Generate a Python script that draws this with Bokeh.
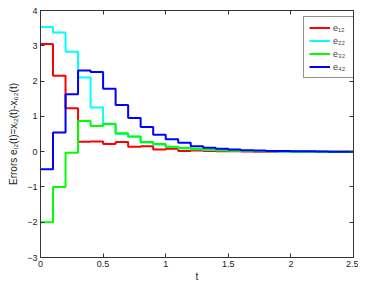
from bokeh.plotting import figure
from bokeh.models import LinearAxis, Legend, LegendItem, FixedTicker, Range1d
from bokeh.embed import file_html
from bokeh.resources import INLINE

t = [round(0.1 * i, 1) for i in range(26)]
e12 = [3.05, 2.15, 1.23, 0.28, 0.29, 0.22, 0.27, 0.14, 0.15, 0.06, 0.08, 0.02, 0.03,
       0.02, 0.01, 0.01, 0.005, 0, 0, 0, 0, 0, 0, 0, 0]
e22 = [3.53, 3.38, 2.83, 2.1, 1.25, 0.79, 0.5, 0.42, 0.26, 0.2, 0.13, 0.09, 0.07,
       0.05, 0.04, 0.03, 0.02, 0.01, 0.01, 0, 0, 0, 0, 0, 0]
e32 = [-2.0, -1.0, -0.03, 0.87, 0.73, 0.78, 0.52, 0.43, 0.27, 0.22, 0.14, 0.1, 0.08,
       0.06, 0.04, 0.03, 0.02, 0.02, 0.01, 0.01, 0, 0, 0, 0, 0]
e42 = [-0.5, 0.54, 1.63, 2.3, 2.26, 1.78, 1.32, 0.95, 0.7, 0.48, 0.35, 0.25, 0.15,
       0.11, 0.08, 0.06, 0.04, 0.03, 0.02, 0.015, 0.01, 0.01, 0.005, 0, 0]
names = ["e₁₂", "e₂₂", "e₃₂", "e₄₂"]
colors = ["#ff0000", "#00ffff", "#00ff00", "#0000ff"]
xticks = [0, 0.5, 1, 1.5, 2, 2.5]
yticks = [-3, -2, -1, 0, 1, 2, 3, 4]

FONT = "Liberation Sans"

p = figure(width=358, height=284, output_backend="svg", toolbar_location=None,
           x_range=Range1d(0, 2.5), y_range=Range1d(-3, 4),
           min_border_left=40, min_border_right=5, min_border_top=10, min_border_bottom=22,
           x_axis_location=None, y_axis_location=None)
p.xgrid.visible = False
p.ygrid.visible = False
p.outline_line_color = "#333333"
p.outline_line_width = 1

def style(ax, labels=True):
    ax.major_tick_in = 4
    ax.major_tick_out = 0
    ax.minor_tick_in = 0
    ax.minor_tick_out = 0
    ax.axis_line_color = "#333333"
    ax.major_tick_line_color = "#333333"
    ax.major_label_text_font = FONT
    ax.major_label_text_font_size = "9px"
    ax.major_label_text_color = "#222222"
    ax.major_label_standoff = 3
    ax.axis_label_text_font = FONT
    ax.axis_label_text_font_size = "10px"
    ax.axis_label_text_font_style = "normal"
    ax.axis_label_text_color = "#222222"
    if not labels:
        ax.major_label_overrides = {tk: "" for tk in ax.ticker.ticks}
        ax.major_label_standoff = 0

xb = LinearAxis(ticker=FixedTicker(ticks=xticks), axis_label="t", axis_label_standoff=1)
style(xb)
p.add_layout(xb, "below")
yl = LinearAxis(ticker=FixedTicker(ticks=yticks), axis_label="Errors eᵢ₂(t)=xᵢ₂(t)-x₀₂(t)",
                axis_label_standoff=5)
style(yl)
p.add_layout(yl, "left")
xa = LinearAxis(ticker=FixedTicker(ticks=xticks))
style(xa, labels=False)
p.add_layout(xa, "above")
yr = LinearAxis(ticker=FixedTicker(ticks=yticks))
style(yr, labels=False)
p.add_layout(yr, "right")

items = []
for name, col, ys in zip(names, colors, [e12, e22, e32, e42]):
    r = p.step(t, ys + [ys[-1]], mode="after", line_color=col, line_width=2)
    items.append(LegendItem(label=name, renderers=[r]))

leg = Legend(items=items, location=(263, 179))
leg.label_text_font = FONT
leg.label_text_font_size = "9px"
leg.label_height = 11
leg.glyph_height = 11
leg.glyph_width = 21
leg.spacing = 2
leg.padding = 5
leg.margin = 0
leg.label_standoff = 3
leg.border_line_color = "#222222"
leg.border_line_width = 1
leg.background_fill_alpha = 1
p.add_layout(leg, "center")

open("out.html", "w").write(file_html(p, INLINE))
